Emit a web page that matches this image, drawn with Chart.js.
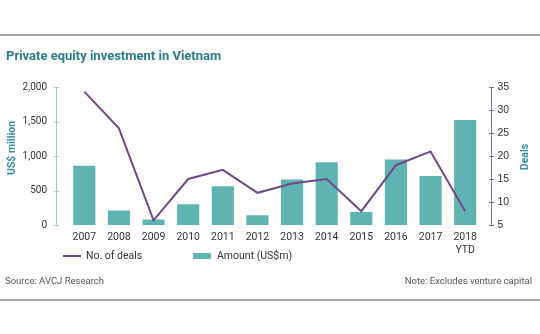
<!DOCTYPE html>
<html>
<head>
<meta charset="utf-8">
<script src="https://cdn.jsdelivr.net/npm/chart.js@4.4.1/dist/chart.umd.min.js"></script>
<style>
  body { margin: 0; background: #fff; }
  #wrap { position: relative; width: 540px; height: 334px; overflow: hidden; font-family: Roboto, sans-serif; }
  #wrap canvas { position: absolute; left: 0; top: 0; }
  .rule { position: absolute; left: 0; width: 540px; height: 2px; background: #a8a8a8; }
  #title { position: absolute; left: 6px; top: 48px; font: bold 13px Roboto, sans-serif; color: #2b7d8c; }
  .leg { position: absolute; top: 249px; font-size: 10.5px; color: #333; }
  .src { position: absolute; top: 275px; font-size: 9.5px; color: #555; }
</style>
</head>
<body>
<div id="wrap">
  <canvas id="myChart" width="540" height="334"></canvas>
  <div class="rule" style="top:34px"></div>
  <div class="rule" style="top:299px"></div>
  <div id="title">Private equity investment in Vietnam</div>
  <div style="position:absolute;left:63px;top:255px;width:18px;height:2px;background:#71498a"></div>
  <div class="leg" style="left:86px">No. of deals</div>
  <div style="position:absolute;left:193px;top:253px;width:18px;height:6px;background:#5fb4b2"></div>
  <div class="leg" style="left:217px">Amount (US$m)</div>
  <div class="src" style="left:5px">Source: AVCJ Research</div>
  <div class="src" style="right:8px">Note: Excludes venture capital</div>
</div>
<script>
(() => {
    const years = ['2007', '2008', '2009', '2010', '2011', '2012', '2013', '2014', '2015', '2016', '2017', ['2018', 'YTD']];
    const amount = [860, 210, 80, 300, 560, 140, 660, 910, 190, 950, 710, 1520];
    const deals = [34, 26, 6, 15, 17, 12, 14, 15, 8, 18, 21, 8];

    const teal = '#5fb4b2';
    const purple = '#71498a';
    const tickFont = { family: 'Roboto, sans-serif', size: 10.5 };

    // axis lines with little cross ticks, drawn a few px out from the plot
    const axisLines = {
        id: 'axisLines',
        afterDraw(chart) {
            const ctx = chart.ctx;
            const draw = (scale, x, color) => {
                const top = scale.getPixelForValue(scale.max);
                const bottom = scale.getPixelForValue(scale.min);
                ctx.save();
                ctx.strokeStyle = color;
                ctx.lineWidth = 1;
                ctx.beginPath();
                ctx.moveTo(x + 0.5, top);
                ctx.lineTo(x + 0.5, bottom + 1);
                scale.ticks.forEach(t => {
                    const y = Math.round(scale.getPixelForValue(t.value)) + 0.5;
                    ctx.moveTo(x - 2, y);
                    ctx.lineTo(x + 3, y);
                });
                ctx.stroke();
                ctx.restore();
            };
            draw(chart.scales.y, 56, '#9ccccb');
            draw(chart.scales.y1, 491, '#8a6a9c');

            const vtext = (txt, x, y) => {
                ctx.save();
                ctx.translate(x, y);
                ctx.rotate(-Math.PI / 2);
                ctx.font = 'bold 10.5px Roboto, sans-serif';
                ctx.fillStyle = '#3a8fa6';
                ctx.textAlign = 'center';
                ctx.textBaseline = 'middle';
                ctx.fillText(txt, 0, 0);
                ctx.restore();
            };
            vtext('US$ million', 12, 148);
            vtext('Deals', 525, 157);
        }
    };

    const ctx = document.getElementById('myChart').getContext('2d');
    new Chart(ctx, {
        type: 'bar',
        data: {
            labels: years,
            datasets: [
                {
                    type: 'line',
                    label: 'No. of deals',
                    data: deals,
                    yAxisID: 'y1',
                    borderColor: purple,
                    borderWidth: 2,
                    pointRadius: 0,
                    tension: 0,
                    order: 0
                },
                {
                    label: 'Amount (US$m)',
                    data: amount,
                    yAxisID: 'y',
                    backgroundColor: teal,
                    categoryPercentage: 1,
                    barPercentage: 0.64,
                    order: 1
                }
            ]
        },
        options: {
            responsive: false,
            animation: false,
            layout: { padding: { top: 87 } },
            plugins: { legend: { display: false }, tooltip: { enabled: false } },
            scales: {
                x: {
                    grid: { display: false, drawTicks: false },
                    border: { display: false },
                    ticks: { color: '#333', font: tickFont, padding: 6, maxRotation: 0, autoSkip: false },
                    afterFit: s => { s.height = 109; }
                },
                y: {
                    position: 'left',
                    min: 0,
                    max: 2000,
                    grid: { display: false, drawTicks: false },
                    border: { display: false },
                    ticks: {
                        stepSize: 500,
                        color: '#333',
                        font: { family: 'Roboto, sans-serif', size: 10 },
                        padding: 20,
                        callback: v => v.toLocaleString('en-US')
                    },
                    afterFit: s => { s.width = 67; }
                },
                y1: {
                    position: 'right',
                    min: 5,
                    max: 35,
                    grid: { display: false, drawTicks: false },
                    border: { display: false },
                    ticks: { stepSize: 5, color: '#333', font: { family: 'Liberation Sans, Arial, sans-serif', size: 10.5 }, padding: 15 },
                    afterFit: s => { s.width = 57.5; }
                }
            }
        },
        plugins: [axisLines]
    });
})()
</script>
</body>
</html>
